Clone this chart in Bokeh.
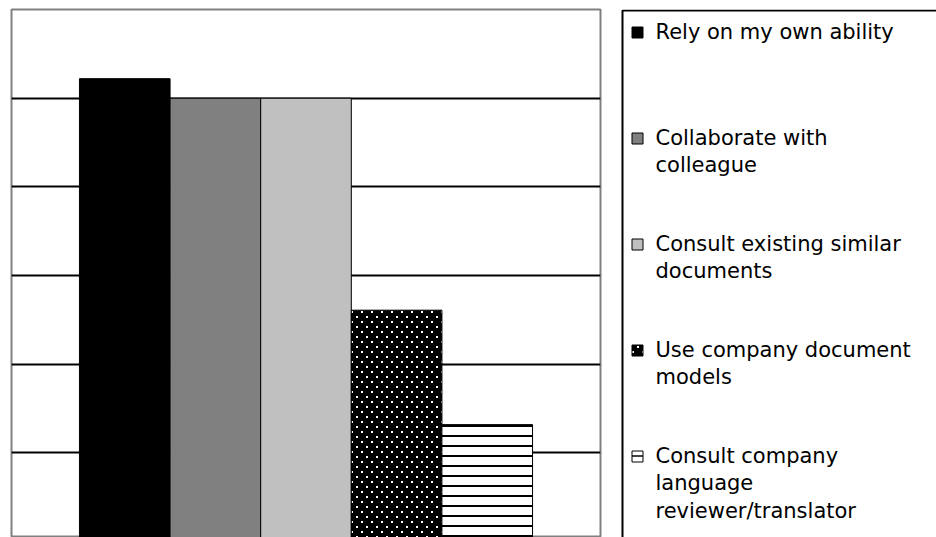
import base64
from bokeh.plotting import figure
from bokeh.layouts import row
from bokeh.models import ColumnDataSource, Range1d, Grid, FixedTicker, ImageURLTexture
from bokeh.core.properties import value
from bokeh.embed import file_html
from bokeh.resources import INLINE

# Survey answers: how respondents handle writing a document
series = [
    "Rely on my own ability",
    "Collaborate with\ncolleague",
    "Consult existing similar\ndocuments",
    "Use company document\nmodels",
    "Consult company\nlanguage\nreviewer/translator",
]
shares = [52.2, 50.0, 50.0, 26.1, 13.2]
grid_values = [10, 20, 30, 40, 50]

# Fill style of each series
fills = ["#000000", "#808080", "#C0C0C0", "#000000", "#FFFFFF"]
hatches = ["blank", "blank", "blank", "dots", "-"]
hatch_colors = ["#000000", "#000000", "#000000", "#FFFFFF", "#000000"]
hatch_scales = [8, 8, 8, 10, 10]
hatch_weights = [1, 1, 1, 1, 2]

# small staggered white dots on a transparent 10x10 tile
tile_svg = (
    "<svg xmlns='http://www.w3.org/2000/svg' width='10' height='10'>"
    "<rect x='1' y='1' width='2' height='2' fill='white'/>"
    "<rect x='6' y='6' width='2' height='2' fill='white'/>"
    "</svg>"
)
dot_tile = ImageURLTexture(
    url="data:image/svg+xml;base64," + base64.b64encode(tile_svg.encode()).decode(),
    repetition="repeat",
)
custom_hatches = {"dots": dot_tile}

n = len(series)
src = ColumnDataSource(dict(
    x=list(range(n)), top=shares, fill=fills, hatch=hatches,
    hcolor=hatch_colors, hscale=hatch_scales, hweight=hatch_weights,
))

# --- bar panel -------------------------------------------------------------
p = figure(
    width=611, height=537, title=None,
    x_range=Range1d(-1.25, n + 0.25), y_range=Range1d(0.47, 60),
    x_axis_location=None, y_axis_location=None,
    toolbar_location=None, output_backend="svg",
    min_border_left=11, min_border_right=11, min_border_top=9, min_border_bottom=0,
)
p.xgrid.visible = False
p.ygrid.visible = False
p.outline_line_color = "#808080"
p.outline_line_width = 2
p.background_fill_color = "white"
p.border_fill_color = "white"

p.add_layout(Grid(dimension=1, ticker=FixedTicker(ticks=grid_values),
                  grid_line_color="#000000", grid_line_width=2))

p.vbar(x="x", top="top", bottom=0, width=1.0, source=src,
       fill_color="fill", line_color="#000000", line_width=1,
       hatch_pattern="hatch", hatch_color="hcolor",
       hatch_scale="hscale", hatch_weight="hweight",
       hatch_extra=custom_hatches)

# --- legend panel ----------------------------------------------------------
# frame starts 9px down; y data units equal screen pixels
lg = figure(
    width=325, height=537, title=None,
    x_range=Range1d(0, 325), y_range=Range1d(537, 9),
    x_axis_location=None, y_axis_location=None,
    toolbar_location=None, output_backend="svg",
    min_border_left=0, min_border_right=0, min_border_top=9, min_border_bottom=0,
)
lg.xgrid.visible = False
lg.ygrid.visible = False
lg.outline_line_color = None
lg.background_fill_color = "white"
lg.border_fill_color = "white"

# box whose right and bottom edges run past the panel
lg.quad(left=11, right=400, top=10, bottom=600,
        fill_color=None, line_color="#000000", line_width=2)

row_top, row_step = 32, 106
entry_y = [row_top + i * row_step for i in range(n)]
lsrc = ColumnDataSource(dict(
    y=entry_y, ty=[y - 13 for y in entry_y], label=series,
    fill=fills, hatch=hatches, hcolor=hatch_colors,
    hscale=[8, 8, 8, 10, 10], hweight=[1, 1, 1, 1, 1.5],
))
lg.rect(x=26, y="y", width=11, height=11, source=lsrc,
        fill_color="fill", line_color="#000000", line_width=1,
        hatch_pattern="hatch", hatch_color="hcolor",
        hatch_scale="hscale", hatch_weight="hweight",
        hatch_extra=custom_hatches)
lg.text(x=44, y="ty", text="label", source=lsrc,
        text_font=value("DejaVu Sans"), text_font_size="21px",
        text_baseline="top", text_align="left",
        text_line_height=1.15, text_color="#000000")

layout = row(p, lg, spacing=0)
open("out.html", "w").write(file_html(layout, INLINE))
